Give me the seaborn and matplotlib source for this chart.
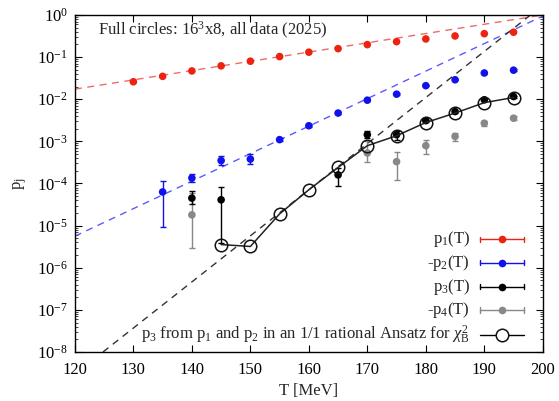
import numpy as np
import matplotlib
matplotlib.use("Agg")
import matplotlib.pyplot as plt
import seaborn as sns
from matplotlib.ticker import LogLocator, FuncFormatter, FixedLocator, NullFormatter

# ---- data ----
T_p1 = [130, 135, 140, 145, 150, 155, 160, 165, 170, 175, 180, 185, 190, 195]
p1 = [0.026, 0.035, 0.047, 0.062, 0.080, 0.103, 0.131, 0.159, 0.198, 0.233, 0.27, 0.318, 0.36, 0.39]

T_p2 = [135, 140, 145, 150, 155, 160, 165, 170, 175, 180, 185, 190, 195]
mp2 = [6.3e-5, 1.35e-4, 3.5e-4, 3.8e-4, 1.1e-3, 2.35e-3, 4.7e-3, 9.5e-3, 0.0132, 0.021, 0.029, 0.042, 0.049]
mp2_lo = [9.1e-6, 1.1e-4, 2.8e-4, 2.9e-4, 1.0e-3, 2.2e-3, 4.5e-3, 9.1e-3, 0.0127, 0.0202, 0.028, 0.0405, 0.047]
mp2_hi = [1.17e-4, 1.65e-4, 4.4e-4, 5.0e-4, 1.2e-3, 2.5e-3, 4.9e-3, 9.9e-3, 0.0137, 0.0218, 0.030, 0.0435, 0.051]

T_p3 = [140, 145, 165, 170, 175, 180, 185, 190, 195]
p3 = [4.5e-5, 4.1e-5, 1.6e-4, 1.44e-3, 1.44e-3, 3.1e-3, 5.1e-3, 9.7e-3, 0.0116]
p3_lo = [3.2e-5, 3.9e-6, 8.9e-5, 1.2e-3, 1.1e-3, 2.9e-3, 4.8e-3, 9.2e-3, 0.011]
p3_hi = [6.8e-5, 8.1e-5, 2.3e-4, 1.72e-3, 1.72e-3, 3.3e-3, 5.4e-3, 1.02e-2, 0.0122]

T_p4 = [140, 170, 175, 180, 185, 190, 195]
mp4 = [1.8e-5, 5.3e-4, 3.3e-4, 7.9e-4, 1.31e-3, 2.7e-3, 3.55e-3]
mp4_lo = [3.0e-6, 3.2e-4, 1.23e-4, 5.1e-4, 1.0e-3, 2.35e-3, 3.2e-3]
mp4_hi = [6.0e-5, 1.0e-3, 5.6e-4, 1.05e-3, 1.58e-3, 3.1e-3, 3.9e-3]

T_rat = [145, 150, 155, 160, 165, 170, 175, 180, 185, 190, 195]
p3_rat = [3.55e-6, 3.2e-6, 1.9e-5, 7.1e-5, 2.4e-4, 7.9e-4, 1.36e-3, 2.8e-3, 4.7e-3, 8.3e-3, 0.011]

# exponential trend lines (end points)
fit1_T = [120, 200.0]
fit1_p = [10 ** -1.76, 1.0]
fit2_T = [120, 200.4]
fit2_p = [10 ** -5.25, 1.0]
fit3_T = [124.8, 197.9]
fit3_p = [1e-8, 1.0]

x_ticks = [120, 130, 140, 150, 160, 170, 180, 190, 200]

legend_labels = ["p$_1$(T)", "-p$_2$(T)", "p$_3$(T)", "-p$_4$(T)",
                 r"p$_3$ from p$_1$ and p$_2$ in an 1/1 rational Ansatz for $\chi^2_{\mathrm{B}}$"]

RED = "#ee2211"
BLUE = "#1111ee"
BLACK = "#000000"
GRAY = "#888888"

# ---- style ----
sns.set_theme(style="ticks")
plt.rcParams["font.family"] = ["Liberation Serif", "DejaVu Serif"]
plt.rcParams["mathtext.fontset"] = "custom"
plt.rcParams["mathtext.rm"] = "Liberation Serif"
plt.rcParams["mathtext.it"] = "Liberation Serif:italic"
plt.rcParams["mathtext.bf"] = "Liberation Serif:bold"
plt.rcParams["font.size"] = 12

fig = plt.figure(figsize=(5.59, 4.01), dpi=100)
ax = fig.add_axes([0.134, 0.1222, 0.837, 0.8404])
ax.set_yscale("log")

# trend lines
for fx, fy, col in [(fit1_T, fit1_p, "#f06a6a"), (fit2_T, fit2_p, "#5a5aff"), (fit3_T, fit3_p, "#333333")]:
    sns.lineplot(x=fx, y=fy, ax=ax, color=col, lw=1.0, linestyle=(0, (5, 4)), zorder=1)


def with_err(T, v, lo, hi, color):
    v = np.asarray(v)
    yerr = np.vstack([v - np.asarray(lo), np.asarray(hi) - v])
    ax.errorbar(T, v, yerr=yerr, fmt="none", ecolor=color, elinewidth=1.0,
                capsize=2.2, capthick=1.0, zorder=2)
    sns.scatterplot(x=T, y=v, ax=ax, color=color, s=30, edgecolor="none", zorder=3)


# p1 (errors negligible)
sns.scatterplot(x=T_p1, y=p1, ax=ax, color=RED, s=30, edgecolor="none", zorder=3)
with_err(T_p2, mp2, mp2_lo, mp2_hi, BLUE)
with_err(T_p4, mp4, mp4_lo, mp4_hi, GRAY)
with_err(T_p3, p3, p3_lo, p3_hi, BLACK)

# rational Ansatz curve
sns.lineplot(x=T_rat, y=p3_rat, ax=ax, color="#222222", lw=1.1, zorder=4)
ax.plot(T_rat, p3_rat, linestyle="none", marker="o", ms=9, mfc="none", mec="#111111", mew=1.1, zorder=5)

# ---- axes ----
ax.set_xlim(120, 200)
ax.set_ylim(1e-8, 1)
ax.xaxis.set_major_locator(FixedLocator(x_ticks))
ax.yaxis.set_major_locator(LogLocator(base=10, numticks=20))
ax.yaxis.set_minor_locator(LogLocator(base=10, subs=np.arange(2, 10), numticks=20))
ax.yaxis.set_minor_formatter(NullFormatter())
ax.yaxis.set_major_formatter(FuncFormatter(lambda v, p: "10$^{%d}$" % int(round(np.log10(v)))))
ax.tick_params(axis="both", which="major", direction="in", length=5, width=0.8,
               top=True, right=True, labelsize=12, colors="black")
ax.tick_params(axis="x", which="major", pad=7)
ax.tick_params(axis="y", which="major", pad=5)
ax.tick_params(axis="both", which="minor", direction="in", length=2.5, width=0.6,
               top=False, right=True)
ax.tick_params(axis="x", which="minor", bottom=False, top=False)
for s in ax.spines.values():
    s.set_linewidth(1.0)
    s.set_color("black")
ax.set_xlabel("T [MeV]", fontsize=12, labelpad=4)
ax.set_ylabel("p$_\\mathrm{j}$", fontsize=12, labelpad=6)

ax.text(0.049, 0.955, "Full circles: 16$^3$x8, all data (2025)", transform=ax.transAxes,
        ha="left", va="center", fontsize=12)

# ---- key ----
key_y = [0.334, 0.265, 0.194, 0.125, 0.050]
key_cols = [RED, BLUE, BLACK, GRAY, BLACK]
x0, x1, xm, xt = 0.865, 0.959, 0.912, 0.844
for i, (yy, lab, col) in enumerate(zip(key_y, legend_labels, key_cols)):
    ax.text(xt, yy, lab, transform=ax.transAxes, ha="right", va="center", fontsize=12)
    ax.plot([x0, x1], [yy, yy], transform=ax.transAxes, color=col, lw=1.0, clip_on=False)
    if i < 4:
        for xc in (x0, x1):
            ax.plot([xc, xc], [yy - 0.008, yy + 0.008], transform=ax.transAxes,
                    color=col, lw=1.0, clip_on=False)
        ax.plot([xm], [yy], transform=ax.transAxes, marker="o", ms=5.5, color=col,
                mec="none", clip_on=False)
    else:
        ax.plot([xm], [yy], transform=ax.transAxes, marker="o", ms=9, mfc="white",
                mec="#111111", mew=1.1, clip_on=False)

fig.savefig("out.png", dpi=100)
